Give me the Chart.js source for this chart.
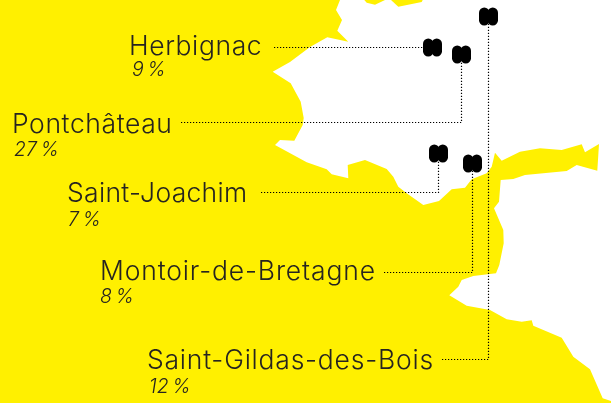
<!DOCTYPE html>
<html lang="fr">
<head>
<meta charset="utf-8">
<title>Communes</title>
<script src="https://cdn.jsdelivr.net/npm/chart.js@4/dist/chart.umd.min.js"></script>
<style>
  html, body { margin: 0; padding: 0; background: #fff; }
  canvas { display: block; }
</style>
</head>
<body>
<canvas id="map" width="611" height="403"></canvas>
<script>
// Values
const communes = ['Herbignac', 'Pontchâteau', 'Saint-Joachim', 'Montoir-de-Bretagne', 'Saint-Gildas-des-Bois'];
const shares = ['9\u202f%', '27\u202f%', '7\u202f%', '8\u202f%', '12\u202f%'];

// Town positions on the map (map units = axis units)
const townX = [432.5, 461.5, 438.5, 472.5, 488.5];
const townY = [47.5, 54.5, 153.5, 163.5, 16.5];

// Leader lines: label end -> elbow -> town
const leaderStartX = [274, 181, 261, 384, 442];
const leaderRowY = [47.5, 122.5, 192.5, 272.5, 359.5];

// Label anchors
const labelX = [129, 12, 67, 100, 147];
const labelY = [54.5, 133, 201.5, 280, 369];
const labelTracking = [0.6, 0.6, 0.3, 0.85, 0.78];
const shareX = [132, 14, 68, 100, 149];
const shareY = [76, 156, 226, 302.7, 392.5];

// Land outlines
const landX = [0, 340, 336, 342, 337.3, 348.3, 327.3, 310, 290, 272.7, 290.7, 300.7, 303.7, 302.7, 294.3, 280, 275,
  306.7, 326.7, 331.7, 348.3, 347.7, 365, 386.7, 393.3, 398.3, 406.7, 423.3, 439, 451.7, 465, 471.7, 486.7, 491.7,
  495, 501.7, 520, 540, 561.7, 581.7, 585, 599, 597.3, 576.7, 566.7, 525, 513.3, 500.7, 499, 494, 503.3, 503.7,
  499.3, 496, 473.3, 461.7, 458.3, 449.3, 466.7, 490, 506.7, 521.7, 531.7, 533.3, 561.7, 573.3, 590, 602.7, 611,
  611, 0];
const landY = [0, 0, 10, 20, 30.7, 41.7, 37.3, 47, 62, 71.7, 83.3, 101.7, 118, 125, 140.7, 140, 145,
  162.3, 169.3, 174.3, 178.3, 165, 160, 169, 176.7, 186.7, 193.3, 205, 201, 189.3, 187.7, 179.3, 173.3, 166.7,
  152.7, 160.7, 151.7, 148.3, 150, 144.3, 152.3, 144, 170.7, 165, 171, 175, 179, 180, 201.7, 208.3, 230, 243.3,
  265, 273.3, 276, 280, 286.7, 295.3, 305.7, 310, 319.3, 321.7, 320.3, 325.7, 337.7, 356.7, 369.3, 398.3, 401,
  403, 403];
const isletAX = [364.3, 366.7, 375, 385];
const isletAY = [0, 2.7, 4.7, 0];
const isletBX = [391, 398.3, 421.7, 422.7];
const isletBY = [0, 6.7, 2, 0];

const YELLOW = '#fff000';
const INK = '#262420';

function toPoints(xs, ys) {
  return xs.map((x, i) => ({ x, y: ys[i] }));
}

function landDataset(xs, ys) {
  return {
    order: 3,
    data: toPoints(xs.concat(xs[0]), ys.concat(ys[0])),
    showLine: true,
    fill: 'shape',
    backgroundColor: YELLOW,
    borderWidth: 0,
    pointRadius: 0,
    tension: 0
  };
}

function leaderDataset(i) {
  return {
    order: 2,
    data: [
      { x: leaderStartX[i], y: leaderRowY[i] },
      { x: townX[i], y: leaderRowY[i] },
      { x: townX[i], y: townY[i] }
    ],
    showLine: true,
    borderColor: '#000',
    borderWidth: 1.2,
    borderDash: [1.2, 1.8],
    pointRadius: 0,
    tension: 0
  };
}

// Marker: two overlapping pills
function makeMarker() {
  const c = document.createElement('canvas');
  c.width = 19;
  c.height = 19;
  const g = c.getContext('2d');
  g.fillStyle = '#000';
  [0, 8.5].forEach(x => {
    g.beginPath();
    g.roundRect(x, 0.5, 10.5, 18, 5.25);
    g.fill();
  });
  return c;
}

const labelsPlugin = {
  id: 'townLabels',
  afterDatasetsDraw(chart) {
    const { ctx, scales } = chart;
    ctx.save();
    ctx.fillStyle = INK;
    ctx.textBaseline = 'alphabetic';
    ctx.textAlign = 'left';
    communes.forEach((name, i) => {
      ctx.font = '350 26.5px Inter';
      ctx.letterSpacing = labelTracking[i] + 'px';
      ctx.fillText(name, scales.x.getPixelForValue(labelX[i]), scales.y.getPixelForValue(labelY[i]));
      ctx.font = 'italic 350 19.5px Inter';
      ctx.letterSpacing = '0px';
      ctx.fillText(shares[i], scales.x.getPixelForValue(shareX[i]), scales.y.getPixelForValue(shareY[i]));
    });
    ctx.restore();
  }
};

new Chart(document.getElementById('map').getContext('2d'), {
  type: 'scatter',
  data: {
    datasets: [
      landDataset(landX, landY),
      landDataset(isletAX, isletAY),
      landDataset(isletBX, isletBY),
      ...communes.map((_, i) => leaderDataset(i)),
      {
        order: 1,
        data: toPoints(townX, townY),
        pointStyle: makeMarker(),
        pointRadius: 10,
        showLine: false
      }
    ]
  },
  options: {
    responsive: false,
    animation: false,
    layout: { padding: 0, autoPadding: false },
    plugins: { legend: { display: false }, tooltip: { enabled: false } },
    scales: {
      x: { type: 'linear', display: false, min: 0, max: 611 },
      y: { type: 'linear', display: false, min: 0, max: 403, reverse: true }
    }
  },
  plugins: [labelsPlugin]
});
</script>
</body>
</html>
